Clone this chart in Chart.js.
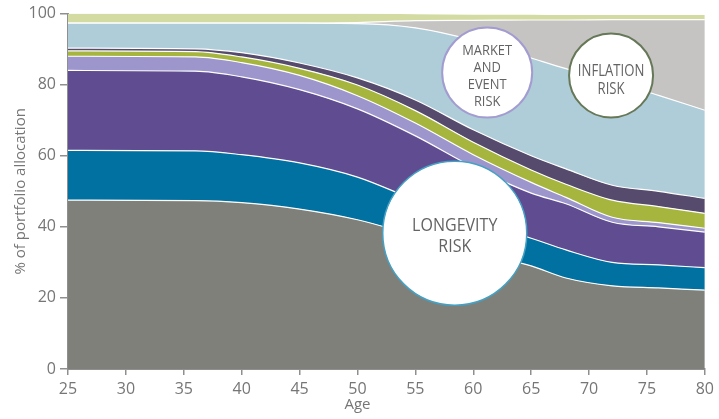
<!DOCTYPE html>
<html>
<head>
<meta charset="utf-8">
<script src="https://cdn.jsdelivr.net/npm/chart.js@4.4.0/dist/chart.umd.min.js"></script>
<style>
  html, body { margin: 0; padding: 0; background: #fff; }
  #wrap { width: 719px; height: 419px; }
</style>
</head>
<body>
<div id="wrap"><canvas id="c" width="719" height="419"></canvas></div>
<script>
// Age points (years) and the share of the portfolio (%) held in each band, bottom to top
const ages     = [25, 36, 40, 45, 50, 55, 60, 65, 68, 72, 76, 80];
const grey     = [47.5, 47.4, 46.8, 45, 42, 37.5, 33, 29, 25.6, 23.4, 22.8, 22.2];
const teal     = [14, 14, 13.5, 13, 12, 10, 8.5, 7.8, 7.9, 6.6, 6.5, 6.3];
const purple   = [22.5, 22.4, 21.9, 20.6, 19.2, 18.1, 15.3, 12.7, 13, 11.3, 10.7, 10];
const lavender = [4, 4, 4, 4, 3.7, 3.6, 3.5, 3, 1.8, 1.4, 1.2, 1.1];
const green    = [1.5, 1.5, 1.6, 2, 3, 3.5, 3.5, 3.5, 3.7, 4.8, 4.5, 4.2];
const slate    = [0.8, 0.8, 1.2, 1.5, 2, 3, 3.5, 4, 4.3, 4.2, 4.3, 4.2];
const skyBlue  = [7, 7.2, 8.3, 11.2, 15.3, 20.3, 25.2, 27.5, 28.2, 29.3, 27, 24.8];
const silver   = [0, 0, 0, 0, 0.3, 2, 5.6, 10.7, 13.7, 17.3, 21.3, 25.5];
const topBand  = [2.7, 2.7, 2.7, 2.7, 2.5, 1.8, 1.6, 1.5, 1.4, 1.3, 1.3, 1.3];

const yTicks = [0, 20, 40, 60, 80, 100];
const xTicks = [25, 30, 35, 40, 45, 50, 55, 60, 65, 70, 75, 80];

const layers = [
  { label: 'grey',     values: grey,     color: '#7f8079' },
  { label: 'teal',     values: teal,     color: '#0071a1' },
  { label: 'purple',   values: purple,   color: '#5f4c91' },
  { label: 'lavender', values: lavender, color: '#9d96cc' },
  { label: 'green',    values: green,    color: '#a6b53d' },
  { label: 'slate',    values: slate,    color: '#564b6c' },
  { label: 'sky',      values: skyBlue,  color: '#aecdd9' },
  { label: 'silver',   values: silver,   color: '#c5c4c2' },
  { label: 'top',      values: topBand,  color: '#d3dba3' }
];

// Risk call-outs, placed at (age, %) with a radius in pixels
const bubbles = [
  { age: 58.4, pct: 38.2, r: 72, stroke: '#45a1c4', lw: 1.5, lines: ['LONGEVITY', 'RISK'],
    size: 18, squeeze: 0.89, gap: 21, shift: 3 },
  { age: 61.2, pct: 83.4, r: 45, stroke: '#a39cd0', lw: 2, lines: ['MARKET', 'AND', 'EVENT', 'RISK'],
    size: 15, squeeze: 0.86, gap: 17, shift: 4 },
  { age: 71.9, pct: 82.6, r: 42, stroke: '#667857', lw: 2, lines: ['INFLATION', 'RISK'],
    size: 16, squeeze: 0.82, gap: 18, shift: 5 }
];

const textGrey = '#767676';
const axisGrey = '#8f8f8f';

const riskNotes = {
  id: 'riskNotes',
  afterDatasetsDraw(chart) {
    const { ctx, scales: { x, y } } = chart;
    bubbles.forEach(b => {
      const cx = x.getPixelForValue(b.age);
      const cy = y.getPixelForValue(b.pct);
      ctx.save();
      ctx.beginPath();
      ctx.arc(cx, cy, b.r, 0, Math.PI * 2);
      ctx.fillStyle = '#ffffff';
      ctx.fill();
      ctx.lineWidth = b.lw;
      ctx.strokeStyle = b.stroke;
      ctx.stroke();
      ctx.fillStyle = '#636363';
      ctx.font = b.size + 'px "Open Sans"';
      ctx.textAlign = 'center';
      ctx.textBaseline = 'middle';
      const n = b.lines.length;
      b.lines.forEach((t, i) => {
        const ty = cy + b.shift + (i - (n - 1) / 2) * b.gap;
        ctx.save();
        ctx.translate(cx, ty);
        ctx.scale(b.squeeze, 1);
        ctx.fillText(t, 0, 0);
        ctx.restore();
      });
      ctx.restore();
    });
  },
  afterDraw(chart) {
    const { ctx, chartArea, scales: { x } } = chart;
    ctx.save();
    ctx.fillStyle = textGrey;
    ctx.font = '15px "Open Sans"';
    ctx.textAlign = 'center';
    ctx.textBaseline = 'middle';
    ctx.fillText('Age', x.getPixelForValue(50), chartArea.bottom + 36);
    ctx.restore();
  }
};

new Chart(document.getElementById('c'), {
  type: 'line',
  data: {
    datasets: layers.map((l, i) => ({
      label: l.label,
      data: ages.map((a, k) => ({ x: a, y: l.values[k] })),
      backgroundColor: l.color,
      borderColor: '#ffffff',
      borderWidth: i === layers.length - 1 ? 0 : 1.2,
      pointRadius: 0,
      fill: i === 0 ? 'origin' : '-1',
      cubicInterpolationMode: 'monotone'
    }))
  },
  options: {
    responsive: false,
    animation: false,
    devicePixelRatio: 1,
    layout: { padding: { top: 13, right: 14, left: 0, bottom: 0 } },
    plugins: { legend: { display: false }, tooltip: { enabled: false } },
    scales: {
      x: {
        type: 'linear',
        min: 25, max: 80,
        afterBuildTicks: s => { s.ticks = xTicks.map(v => ({ value: v })); },
        afterFit: s => { s.height = 50; },
        grid: { display: true, drawOnChartArea: false, drawTicks: true, tickLength: 6, color: axisGrey, lineWidth: 1.5 },
        border: { display: true, color: axisGrey, width: 2 },
        ticks: { color: textGrey, font: { family: 'Open Sans', size: 16 }, padding: 5, maxRotation: 0 }
      },
      y: {
        stacked: true,
        min: 0, max: 100,
        afterBuildTicks: s => { s.ticks = yTicks.map(v => ({ value: v })); },
        afterFit: s => { s.width = 68; },
        grid: { display: true, drawOnChartArea: false, drawTicks: true, tickLength: 8, color: axisGrey, lineWidth: 1.5 },
        border: { display: true, color: axisGrey, width: 2 },
        ticks: { color: textGrey, font: { family: 'Open Sans', size: 16 }, padding: 4 },
        title: { display: true, text: '% of portfolio allocation', color: textGrey,
                 font: { family: 'Open Sans', size: 15 }, padding: { top: 12, bottom: 0 } }
      }
    }
  },
  plugins: [riskNotes]
});
</script>
</body>
</html>
